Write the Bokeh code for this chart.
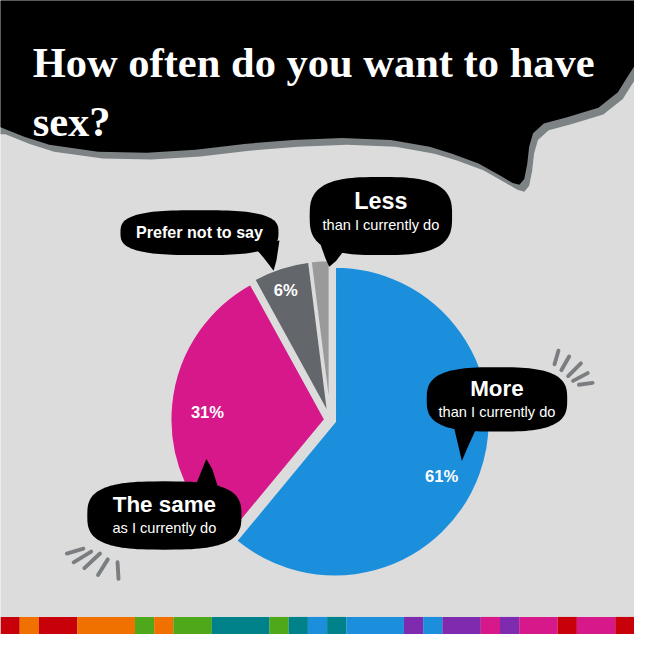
import numpy as np
from bokeh.plotting import figure
from bokeh.models import Range1d
from bokeh.core.properties import value
from bokeh.embed import file_html
from bokeh.resources import INLINE

# ---------------- data ----------------
categories = ["More", "The same", "Prefer not to say", "Less"]
subtitles = ["than I currently do", "as I currently do", "", "than I currently do"]
percent = [61, 31, 6, 2]
pct_labels = ["61%", "31%", "6%", ""]
slice_colors = ["#1b8fdc", "#d6188a", "#63676b", "#9a9a9a"]
title_lines = ["How often do you want to have", "sex?"]

strip_colors = ["#c8000a", "#f07000", "#c8000a", "#f07000", "#4ea81a", "#f07000",
                "#4ea81a", "#00828a", "#4ea81a", "#00828a", "#1b8fdc", "#00828a",
                "#1b8fdc", "#7f2bb0", "#1b8fdc", "#7f2bb0", "#d6188a", "#7f2bb0",
                "#d6188a", "#c8000a", "#d6188a", "#c8000a"]
strip_units = [1, 1, 2, 3, 1, 1, 2, 3, 1, 1, 1, 1, 3, 1, 1, 2, 1, 1, 2, 1, 2, 1]

# ---------------- layout ----------------
W = 650
SIZE = 634
S = SIZE / W
BG = "#dcdcdd"
FONT = "Liberation Sans"
TITLE_FONT = "Liberation Serif"


def Y(v):
    return W - np.asarray(v, dtype=float)


def fs(px):
    return f"{px * S:.1f}px"


def mid(baseline, size):
    # convert a reference baseline into a "middle" anchor
    return baseline - 0.35 * size


p = figure(width=SIZE, height=SIZE, x_range=Range1d(0, W), y_range=Range1d(0, W),
           output_backend="svg", toolbar_location=None, min_border=0,
           x_axis_location=None, y_axis_location=None)
p.grid.visible = False
p.outline_line_color = None
p.background_fill_color = BG
p.border_fill_color = BG

# ---------------- title bubble ----------------
edge = [(0, 130), (25, 140), (50, 148), (100, 155), (150, 156), (200, 153), (250, 147),
        (300, 143), (350, 141), (400, 143), (440, 150), (463, 157), (490, 167),
        (513, 180), (525, 187), (532, 189), (537, 183), (540, 168), (542, 150),
        (546, 136), (557, 126), (580, 120), (613, 110), (633, 94), (643, 78), (650, 67)]
ex = [e[0] for e in edge]
ey = [e[1] for e in edge]
shx = [x + 5 for x in ex]
shy = [y + 7 for y in ey]
p.patch([-10] + shx + [660, 660, -10], list(Y([ey[0] + 7] + shy + [ey[-1] + 7, -10, -10])),
        fill_color="#7d8285", line_color=None)
p.patch([-10] + ex + [660, 660, -10], list(Y([ey[0]] + ey + [ey[-1], -10, -10])),
        fill_color="black", line_color=None)

TS = 43.6
p.text(x=[33, 33], y=list(Y([mid(79, TS), mid(139, TS)])), text=title_lines,
       text_font=value(TITLE_FONT), text_font_style="bold",
       text_font_size=fs(TS), text_color="white", text_baseline="middle",
       text_align="left")

# ---------------- pie ----------------
cx, cy = 338, 430
R = 159
EXPL = 5
frac = np.array(percent, dtype=float) / sum(percent)
ends = 90 - np.concatenate([[0], np.cumsum(frac)[:-1]]) * 360
starts = ends - frac * 360
mids = np.radians((starts + ends) / 2)
wx = cx + EXPL * np.cos(mids)
wy = Y(cy) + EXPL * np.sin(mids)
p.wedge(x=wx, y=wy, radius=R, start_angle=np.radians(starts), end_angle=np.radians(ends),
        direction="anticlock", fill_color=slice_colors, line_color=BG, line_width=2.5)

lab_r = [128, 126, 140, 0]
lab_shift = [-7, 2, 1, 0]
la = mids + np.radians(lab_shift)
lx = cx + np.array(lab_r) * np.cos(la)
ly = Y(cy) + np.array(lab_r) * np.sin(la)
p.text(x=lx, y=ly, text=pct_labels, text_font=value(FONT), text_font_style="bold",
       text_font_size=fs(17), text_color="white", text_align="center",
       text_baseline="middle")

# ---------------- speech bubbles ----------------


def blob(bx, by, a, b, n=3.0, m=120):
    t = np.linspace(0, 2 * np.pi, m, endpoint=False)
    c, s = np.cos(t), np.sin(t)
    x = bx + a * np.sign(c) * np.abs(c) ** (2 / n)
    y = by + b * np.sign(s) * np.abs(s) ** (2 / n)
    return list(x), list(Y(y))


bubbles = [  # center, half sizes, tail (screen coords) -- order as categories
    ((509, 409), (72, 33), [(464, 434), (469, 455), (473, 472), (479, 458), (490, 434)]),
    ((168, 528), (79, 35), [(198, 502), (205, 485), (211, 470), (217, 480), (224, 502)]),
    ((204, 238), (81, 23), [(258, 250), (270, 264), (280, 277), (283, 266), (286, 246)]),
    ((390, 221), (73, 40), [(328, 250), (333, 264), (337, 273), (344, 267), (354, 254)]),
]
for (bc, ab, tail) in bubbles:
    bx, by = blob(bc[0], bc[1], ab[0], ab[1])
    p.patch(bx, by, fill_color="black", line_color=None)
    p.patch([t[0] for t in tail], list(Y([t[1] for t in tail])), fill_color="black",
            line_color=None)

main_base = [406, 525, 243, 214]
main_size = [23, 23, 16.5, 24]
sub_base = [427, 546, 0, 235]
SUB = 15
for i, (bc, ab, tail) in enumerate(bubbles):
    p.text(x=[bc[0]], y=list(Y([mid(main_base[i], main_size[i])])), text=[categories[i]],
           text_font=value(FONT), text_font_style="bold",
           text_font_size=fs(main_size[i]), text_color="white", text_align="center",
           text_baseline="middle")
    if subtitles[i]:
        p.text(x=[bc[0]], y=list(Y([mid(sub_base[i], SUB)])), text=[subtitles[i]],
               text_font=value(FONT), text_font_size=fs(SUB), text_color="white",
               text_align="center", text_baseline="middle")

# ---------------- burst marks ----------------
marks = [((572, 359), (568, 373)), ((583, 365), (575, 379)), ((595, 372), (582, 385)),
         ((602, 382), (587, 390)), ((607, 392), (593, 394)),
         ((68, 567), (85, 562)), ((75, 576), (93, 565)), ((86, 582), (102, 567)),
         ((100, 589), (110, 573)), ((121, 593), (120, 576))]
p.segment(x0=[m[0][0] for m in marks], y0=list(Y([m[0][1] for m in marks])),
          x1=[m[1][0] for m in marks], y1=list(Y([m[1][1] for m in marks])),
          line_color="#7b7e80", line_width=4 * S, line_cap="round")

# ---------------- bottom strip ----------------
unit = W / 33
edges = np.concatenate([[0], np.cumsum(strip_units)]) * unit
rights = edges[1:].copy()
rights[-1] = W + 5
p.quad(left=edges[:-1], right=rights, bottom=-5, top=float(Y(632)),
       fill_color=strip_colors, line_color=None)

open("out.html", "w").write(file_html(p, INLINE))
